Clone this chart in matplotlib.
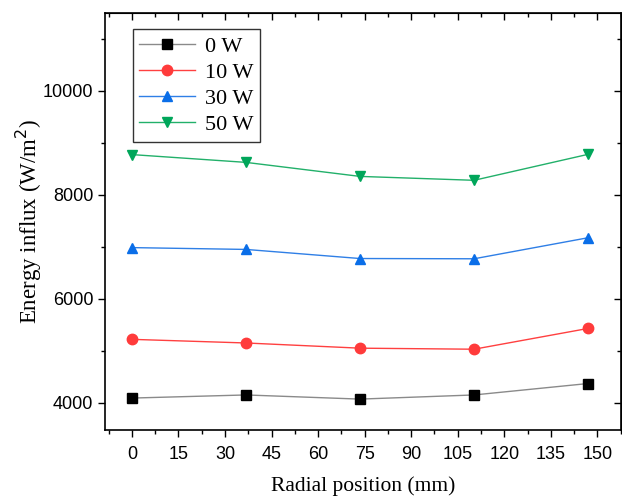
import matplotlib.pyplot as plt
from matplotlib.ticker import MultipleLocator

# Radial position of the probe [mm]
radial_mm = [0, 36.75, 73.5, 110.25, 147]

# Energy influx [W/m^2] for each discharge power
flux_0w = [4090, 4150, 4070, 4150, 4370]
flux_10w = [5220, 5150, 5050, 5030, 5430]
flux_30w = [6985, 6950, 6775, 6770, 7175]
flux_50w = [8775, 8625, 8355, 8280, 8780]

labels = ["0 W", "10 W", "30 W", "50 W"]

serif = ["Liberation Serif", "DejaVu Serif"]
sans = ["Liberation Sans", "DejaVu Sans"]

fig = plt.figure(figsize=(6.22, 4.98), dpi=100)
ax = fig.add_axes([0.169, 0.137, 0.829, 0.837])

# (values, marker, marker colour, line colour)
series = [
    (flux_0w, "s", "black", "#8a8a8a"),
    (flux_10w, "o", "#ff3b3b", "#ff4040"),
    (flux_30w, "^", "#0a6ee8", "#2f7fe6"),
    (flux_50w, "v", "#00a65a", "#22b06a"),
]
for (vals, mk, mc, lc), lab in zip(series, labels):
    ax.plot(radial_mm, vals, color=lc, lw=1.0, marker=mk, markersize=7.5,
            markerfacecolor=mc, markeredgecolor=mc, label=lab)

ax.set_xlim(-8.6, 157.5)
ax.set_ylim(3480, 11500)
ax.xaxis.set_major_locator(MultipleLocator(15))
ax.xaxis.set_minor_locator(MultipleLocator(7.5))
ax.yaxis.set_major_locator(MultipleLocator(2000))
ax.yaxis.set_minor_locator(MultipleLocator(1000))

ax.tick_params(which="both", direction="out", width=1.0, labelsize=13,
               top=False, right=False)
ax.tick_params(which="major", length=5)
ax.tick_params(which="minor", length=3)
ax.tick_params(axis="x", pad=7)
for lbl in ax.get_xticklabels() + ax.get_yticklabels():
    lbl.set_family(sans)

# mirrored ticks on top and right, pointing inward
for side in ("top", "right"):
    sec = ax.secondary_xaxis("top") if side == "top" else ax.secondary_yaxis("right")
    axis = sec.xaxis if side == "top" else sec.yaxis
    axis.set_major_locator(MultipleLocator(15 if side == "top" else 2000))
    axis.set_minor_locator(MultipleLocator(7.5 if side == "top" else 1000))
    sec.tick_params(which="both", direction="in", labelsize=0, width=1.0)
    sec.tick_params(which="major", length=5)
    sec.tick_params(which="minor", length=3)
    axis.set_ticklabels([])

for sp in ax.spines.values():
    sp.set_linewidth(1.2)

ax.set_xlabel("Radial position (mm)", family=serif, fontsize=15.5, labelpad=9)
ax.set_ylabel("Energy influx (W/m$^2$)", family=serif, fontsize=16.5, labelpad=-1)

leg = ax.legend(loc="upper left", bbox_to_anchor=(0.045, 0.971),
                prop={"family": serif, "size": 16}, fancybox=False,
                edgecolor="#333333", framealpha=1, handlelength=2.5,
                borderpad=0.3, labelspacing=0.25, handletextpad=0.45,
                borderaxespad=0.2)
leg.get_frame().set_linewidth(1.0)

fig.savefig("out.png", dpi=100)
